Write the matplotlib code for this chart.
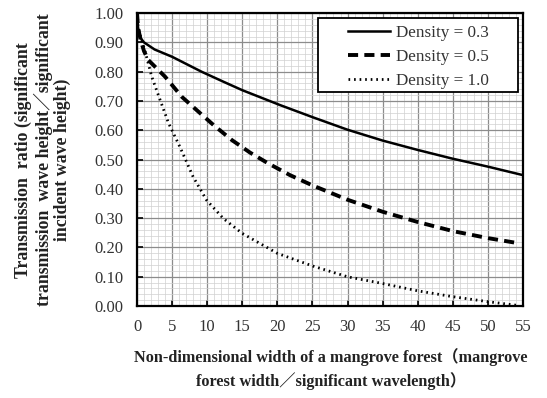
import matplotlib

matplotlib.use("Agg")
import matplotlib.pyplot as plt
from matplotlib.patches import Rectangle
from matplotlib.ticker import MultipleLocator

# values
width_03 = [0, 0.15, 0.5, 1, 2.5, 5, 9.2, 12.3, 15, 20.4, 25, 30,
            35, 40, 45, 50, 55]
density_03 = [1.00, 0.95, 0.915, 0.90, 0.876, 0.851, 0.80, 0.766, 0.737,
              0.686, 0.645, 0.602, 0.565, 0.533, 0.503, 0.476, 0.447]

width_05 = [0, 0.15, 0.5, 1, 1.6, 4, 6.4, 8.5, 10.9, 13.5, 16.1, 18.7, 21.8,
            25, 30, 35, 40, 45, 50, 54]
density_05 = [1.00, 0.95, 0.91, 0.87, 0.84, 0.783, 0.714, 0.669, 0.618, 0.567,
              0.524, 0.487, 0.447, 0.412, 0.363, 0.322, 0.287, 0.256, 0.232,
              0.216]

width_10 = [0, 0.15, 0.5, 1.1, 2.1, 3.3, 4.5, 6.1, 8, 9.9, 12.3, 15, 20, 25,
            30, 35, 40, 45, 50, 54]
density_10 = [1.00, 0.95, 0.92, 0.874, 0.783, 0.703, 0.624, 0.544, 0.441,
              0.362, 0.299, 0.248, 0.18, 0.137, 0.10, 0.077, 0.052, 0.032,
              0.015, 0.003]

labels = ["Density = 0.3", "Density = 0.5", "Density = 1.0"]

plt.rcParams["font.family"] = ["Liberation Serif", "Noto Sans CJK JP"]

fig = plt.figure(figsize=(5.47, 3.98), dpi=100)
ax = fig.add_axes([0.2505, 0.231, 0.7055, 0.736])

ax.plot(width_03, density_03, color="black", lw=1.8, label=labels[0])
ax.plot(width_05, density_05, color="black", lw=2.8, dashes=(2.6, 1.6),
        label=labels[1])
ax.plot(width_10, density_10, color="black", lw=2.0, dashes=(0.6, 1.4),
        label=labels[2])

ax.set_xlim(0, 55)
ax.set_ylim(0, 1.0)
ax.xaxis.set_major_locator(MultipleLocator(5))
ax.xaxis.set_minor_locator(MultipleLocator(1))
ax.yaxis.set_major_locator(MultipleLocator(0.1))
ax.yaxis.set_minor_locator(MultipleLocator(0.02))
ax.yaxis.set_major_formatter(lambda v, pos: f"{v:.2f}")
ax.grid(which="major", color="#8c8c8c", lw=0.9)
ax.grid(which="minor", color="#d0d0d0", lw=0.5)
ax.set_axisbelow(True)
ax.tick_params(which="major", direction="in", length=4, width=1.2,
               labelsize=12, labelcolor="#333333")
ax.tick_params(which="minor", length=0)
ax.tick_params(axis="y", pad=10)
ax.tick_params(axis="x", pad=9)
for s in ax.spines.values():
    s.set_linewidth(1.6)

fig.text(0.605, 0.073,
         "Non-dimensional width of a mangrove forest（mangrove\n"
         "forest width／significant wavelength）",
         fontsize=11.7, fontweight="bold", color="#222222",
         linespacing=1.4, ha="center", va="center", multialignment="center")
fig.text(0.0786, 0.598,
         "Transmission  ratio (significant\n"
         "transmission  wave height／significant\n"
         "incident wave height)",
         fontsize=12.8, fontweight="bold", color="#222222", rotation=90,
         linespacing=1.1, ha="center", va="center", multialignment="center")

# legend frame drawn separately: the reference has a wide left margin
frame = Rectangle((0.469, 0.730), 0.518, 0.253, transform=ax.transAxes,
                  facecolor="white", edgecolor="black", lw=1.3, zorder=4)
ax.add_patch(frame)
leg = ax.legend(loc="center", bbox_to_anchor=(0.729, 0.850), fontsize=12.3,
                frameon=False, handlelength=2.5, handletextpad=0.35,
                labelspacing=0.45, borderpad=0)
leg.set_zorder(5)
for t in leg.get_texts():
    t.set_color("#333333")

fig.savefig("out.png", dpi=100)
